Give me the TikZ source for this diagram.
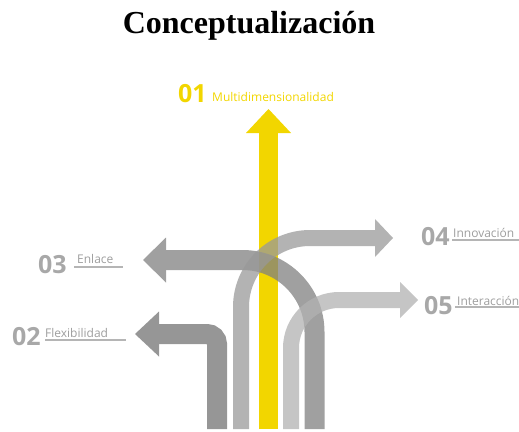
\documentclass[tikz,border=0pt]{standalone}
\usepackage{fontspec}
\newfontfamily\titlefont{Liberation Serif}
\newfontfamily\labelfont{Open Sans}
\usetikzlibrary{arrows.meta}
\definecolor{amarillo}{HTML}{F2D600}
\definecolor{numgris}{HTML}{A8A8A8}
\definecolor{txtgris}{HTML}{9E9E9E}
\tikzset{
  num/.style={font=\labelfont\bfseries\fontsize{25}{25}\selectfont, text=numgris, inner sep=0pt, anchor=base west},
  lab/.style={font=\labelfont\fontsize{12}{12}\selectfont, text=txtgris, inner sep=0pt, anchor=base west},
  uline/.style={draw=numgris!85, line width=1.2pt},
  flecha/.style n args={2}{line cap=butt, -{Triangle[length=#1, width=#2, line width=0pt]}},
}
\begin{document}
\begin{tikzpicture}[x=1pt,y=-1pt]
  \useasboundingbox (0,0) rectangle (519,431);
  \node[font=\titlefont\bfseries\fontsize{32}{38}\selectfont, anchor=base] (titulo) at (249,33) {Conceptualización};
  \draw
    (268.5,429) coordinate (s01) (268.5,109) coordinate (t01)
    (217,429) coordinate (s02) (135,334) coordinate (t02)
    (314.5,429) coordinate (s03) (143,260) coordinate (t03)
    (241,429) coordinate (s04) (393,238) coordinate (t04)
    (291,429) coordinate (s05) (418,300) coordinate (t05);
  \draw[amarillo, line width=19pt, flecha={24pt}{45pt}] (s01) -- (t01);
  \draw[black!41, line width=20pt, rounded corners=10pt, flecha={24pt}{45pt}] (s02) |- (t02);
  \begin{scope}[transparency group, opacity=0.75]
    \draw[black!50, line width=20pt, rounded corners=72pt, flecha={23pt}{45pt}] (s03) |- (t03);
  \end{scope}
  \begin{scope}[transparency group, opacity=0.75]
    \draw[black!40, line width=16pt, rounded corners=69pt, flecha={18pt}{38pt}] (s04) |- (t04);
  \end{scope}
  \begin{scope}[transparency group, opacity=0.75]
    \draw[black!30, line width=16pt, rounded corners=48pt, flecha={18pt}{36pt}] (s05) |- (t05);
  \end{scope}
  \node[num, text=amarillo] (n01) at (178,102) {01};
  \node[lab, text=amarillo] (l01) at (212,101) {Multidimensionalidad};
  \node[num] (n02) at (12,345) {02};
  \node[lab] (l02) at (45,337) {Flexibilidad};
  \node[num] (n03) at (38,273) {03};
  \node[lab] (l03) at (77,263) {Enlace};
  \node[num] (n04) at (421,245) {04};
  \node[lab] (l04) at (453,237) {Innovación};
  \node[num] (n05) at (424,314) {05};
  \node[lab] (l05) at (457,305) {Interacción};
  \draw[uline] (45,340) -- (126,340);
  \draw[uline] (74,267) -- (123,267);
  \draw[uline] (452,240) -- (519,240);
  \draw[uline] (455,307) -- (519,307);
\end{tikzpicture}
\end{document}
